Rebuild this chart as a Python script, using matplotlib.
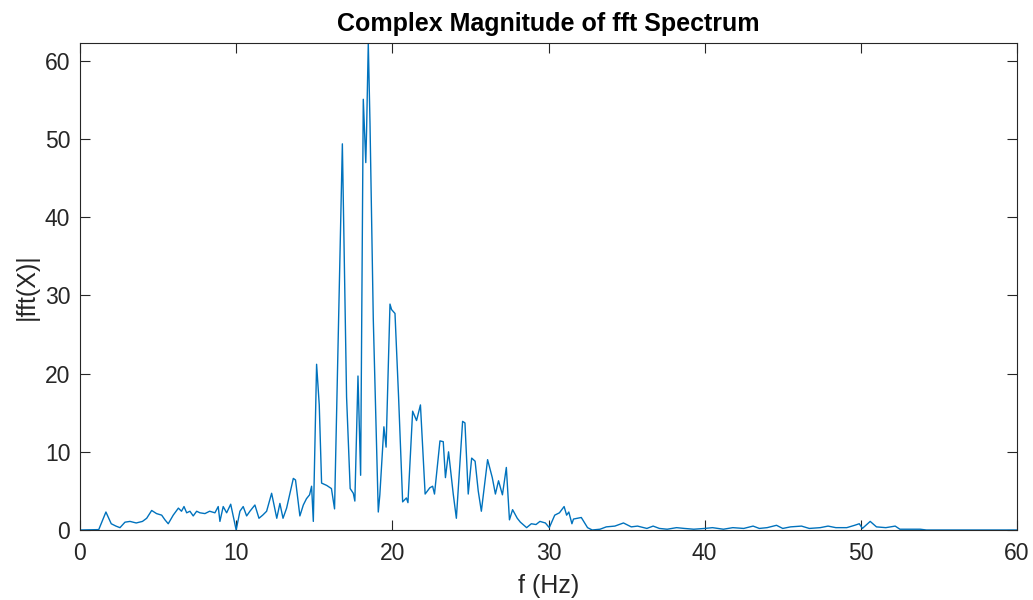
import matplotlib
matplotlib.use("Agg")
import matplotlib.pyplot as plt

freq_hz = [0.0, 1.2, 1.66, 2.0, 2.3, 2.56, 2.88, 3.2, 3.6, 4.0, 4.27, 4.59, 4.9, 5.23, 5.44,
           5.65, 5.97, 6.3, 6.5, 6.66, 6.83, 7.04, 7.25, 7.47, 7.68, 8.0, 8.3, 8.64, 8.85,
           8.96, 9.17, 9.39, 9.65, 9.8, 10.0, 10.24, 10.45, 10.67, 10.88, 11.2, 11.46, 11.7,
           11.95, 12.27, 12.6, 12.8, 13.0, 13.23, 13.66, 13.8, 14.08, 14.3, 14.5, 14.7, 14.83,
           14.94, 15.15, 15.32, 15.47, 15.8, 16.1, 16.3, 16.8, 17.07, 17.3, 17.5, 17.6, 17.8,
           17.97, 18.14, 18.3, 18.35, 18.46, 18.57, 18.78, 19.1, 19.2, 19.46, 19.6, 19.85,
           19.95, 20.17, 20.4, 20.66, 20.9, 21.0, 21.3, 21.55, 21.8, 22.1, 22.4, 22.58, 22.7,
           23.05, 23.26, 23.4, 23.6, 23.9, 24.1, 24.5, 24.65, 24.86, 25.08, 25.3, 25.5, 25.7,
           26.1, 26.4, 26.6, 26.8, 27.05, 27.3, 27.5, 27.7, 28.0, 28.2, 28.6, 28.9, 29.2,
           29.45, 29.8, 30.05, 30.4, 30.7, 31.0, 31.16, 31.3, 31.5, 31.6, 32.1, 32.5, 32.8,
           33.3, 33.7, 34.25, 34.8, 35.3, 35.7, 36.3, 36.7, 37.1, 37.6, 38.2, 38.7, 39.3,
           40.0, 40.5, 41.2, 41.8, 42.5, 43.1, 43.5, 44.0, 44.6, 45.0, 45.5, 46.2, 46.7,
           47.4, 47.9, 48.4, 49.1, 49.6, 49.9, 50.1, 50.6, 51.0, 51.6, 52.2, 52.5, 53.1,
           53.8, 54.2, 60.0]

magnitude = [0.0, 0.05, 2.3, 0.8, 0.5, 0.3, 1.0, 1.1, 0.9, 1.1, 1.5, 2.5, 2.1, 1.9, 1.3,
             0.8, 1.9, 2.8, 2.4, 3.0, 2.2, 2.4, 1.8, 2.4, 2.2, 2.1, 2.4, 2.2, 3.0,
             1.1, 3.0, 2.2, 3.3, 1.9, 0.0, 2.4, 3.0, 1.8, 2.4, 3.2, 1.5, 1.9,
             2.4, 4.7, 1.5, 3.4, 1.5, 2.8, 6.6, 6.4, 1.8, 3.2, 4.0, 4.5, 5.6,
             1.1, 21.2, 16.0, 6.0, 5.7, 5.3, 2.7, 49.4, 17.0, 5.3, 4.7, 3.7, 19.7,
             7.0, 55.1, 47.0, 51.0, 62.3, 52.0, 27.0, 2.3, 4.5, 13.2, 10.6, 28.9,
             28.2, 27.7, 17.0, 3.6, 4.1, 3.5, 15.2, 14.0, 16.0, 4.6, 5.4, 5.6, 4.6,
             11.4, 11.3, 6.7, 10.0, 4.6, 1.5, 13.9, 13.7, 4.6, 9.2, 8.8, 5.0, 2.4,
             9.0, 6.7, 4.6, 6.3, 4.5, 8.0, 1.3, 2.6, 1.5, 1.0, 0.3, 0.8, 0.7,
             1.1, 0.9, 0.3, 1.9, 2.2, 3.0, 1.9, 2.3, 0.8, 1.4, 1.6, 0.3, 0.0,
             0.1, 0.4, 0.5, 0.9, 0.4, 0.5, 0.2, 0.5, 0.2, 0.1, 0.3, 0.2, 0.1,
             0.2, 0.3, 0.1, 0.3, 0.2, 0.5, 0.2, 0.3, 0.6, 0.2, 0.4, 0.5, 0.2,
             0.3, 0.5, 0.3, 0.3, 0.6, 0.8, 0.2, 1.1, 0.4, 0.3, 0.5, 0.1, 0.1,
             0.1, 0.0, 0.0]

x_ticks = [0, 10, 20, 30, 40, 50, 60]
y_ticks = [0, 10, 20, 30, 40, 50, 60]

plt.rcParams['font.family'] = ['Liberation Sans Narrow', 'Liberation Sans', 'DejaVu Sans']
axis_color = '#262626'

fig = plt.figure(figsize=(10.33, 6.0), dpi=100)
ax = fig.add_axes([80/1033, 1 - 530/600, (1017 - 80)/1033, (530 - 43)/600])
ax.plot(freq_hz, magnitude, color='#0072BD', lw=1.0)

ax.set_xlim(0, 60)
ax.set_ylim(0, 62.3)
ax.set_xticks(x_ticks)
ax.set_yticks(y_ticks)
ax.tick_params(direction='in', top=True, right=True, length=7, width=0.8,
               labelsize=16.5, colors=axis_color)
ax.tick_params(axis='x', pad=9)
ax.tick_params(axis='y', pad=7)
for s in ax.spines.values():
    s.set_color(axis_color)
    s.set_linewidth(0.8)

ax.set_title('Complex Magnitude of fft Spectrum', fontsize=18, fontweight='bold',
             color='black', pad=9)
ax.set_xlabel('f (Hz)', fontsize=18, color=axis_color, labelpad=6)
ax.set_ylabel('|fft(X)|', fontsize=18, color=axis_color, labelpad=4)

fig.savefig('out.png', dpi=100)
